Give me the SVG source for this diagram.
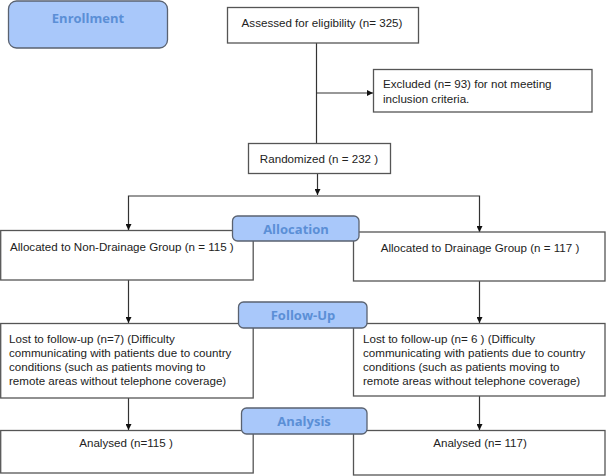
<svg xmlns="http://www.w3.org/2000/svg" width="606" height="476" viewBox="0 0 606 476">
<defs>
<style>
.box{fill:#ffffff;stroke:#555555;stroke-width:1.3}
.lab{fill:#a9c8fa;stroke:#5a6270;stroke-width:1.3}
.lt{font-family:"Open Sans","Liberation Sans",sans-serif;font-weight:bold;font-size:13px;fill:#5b8fd6;text-anchor:middle}
.t{font-family:"Liberation Sans",Arial,sans-serif;font-size:11.6px;fill:#222222}
.m{text-anchor:middle}
.c{fill:none;stroke:#333333;stroke-width:1.2}
</style>
<marker id="ah" viewBox="0 0 10 10" refX="10" refY="5" markerWidth="6" markerHeight="6" markerUnits="userSpaceOnUse" orient="auto">
<path d="M0,0 L10,5 L0,10 z" fill="#111111"/>
</marker>
</defs>
<rect width="606" height="476" fill="#ffffff"/>

<g id="connectors">
<line class="c" x1="316.5" y1="43" x2="316.5" y2="143"/>
<line class="c" x1="316.5" y1="93" x2="373" y2="93" marker-end="url(#ah)"/>
<line class="c" x1="317.5" y1="173" x2="317.5" y2="195" marker-end="url(#ah)"/>
<polyline class="c" points="128.5,230 128.5,196 479.5,196 479.5,232" />
<line class="c" x1="128.5" y1="225" x2="128.5" y2="230" marker-end="url(#ah)"/>
<line class="c" x1="479.5" y1="227" x2="479.5" y2="232" marker-end="url(#ah)"/>
<line class="c" x1="128.5" y1="280" x2="128.5" y2="323" marker-end="url(#ah)"/>
<line class="c" x1="479.5" y1="281" x2="479.5" y2="323" marker-end="url(#ah)"/>
<line class="c" x1="128.5" y1="398" x2="128.5" y2="430" marker-end="url(#ah)"/>
<line class="c" x1="479.5" y1="396" x2="479.5" y2="430" marker-end="url(#ah)"/>
</g>

<g id="enrollment">
<rect class="lab" x="8.5" y="1" width="159" height="47" rx="8"/>
<text class="lt" x="88" y="23" font-size="15">Enrollment</text>
</g>

<g id="assessed">
<rect class="box" x="227.5" y="7.5" width="191" height="35.5"/>
<text class="t m" x="322" y="27">Assessed for eligibility (n= 325)</text>
</g>

<g id="excluded">
<rect class="box" x="373.5" y="69.5" width="218.5" height="42.5"/>
<text class="t" x="383" y="88">Excluded (n= 93) for not meeting</text>
<text class="t" x="383" y="103">inclusion criteria.</text>
</g>

<g id="randomized">
<rect class="box" x="248.5" y="143.5" width="142" height="30"/>
<text class="t m" x="319" y="163">Randomized (n = 232 )</text>
</g>

<g id="alloc-left">
<rect class="box" x="0.7" y="230.5" width="252.5" height="49.5"/>
<text class="t" x="10" y="251">Allocated to Non-Drainage Group (n = 115 )</text>
</g>

<g id="alloc-right">
<rect class="box" x="353.5" y="232" width="251.5" height="49"/>
<text class="t m" x="480" y="252">Allocated to Drainage Group (n = 117 )</text>
</g>

<g id="allocation">
<rect class="lab" x="232.5" y="216" width="126.5" height="25" rx="5"/>
<text class="lt" x="296" y="234">Allocation</text>
</g>

<g id="lost-left">
<rect class="box" x="0.7" y="323.5" width="252.5" height="74.5"/>
<text class="t" x="9" y="343">Lost to follow-up (n=7) (Difficulty</text>
<text class="t" x="9" y="357">communicating with patients due to country</text>
<text class="t" x="9" y="371">conditions (such as patients moving to</text>
<text class="t" x="9" y="385">remote areas without telephone coverage)</text>
</g>

<g id="lost-right">
<rect class="box" x="353.5" y="323.5" width="251.5" height="72.5"/>
<text class="t" x="363" y="343">Lost to follow-up (n= 6 ) (Difficulty</text>
<text class="t" x="363" y="357">communicating with patients due to country</text>
<text class="t" x="363" y="371">conditions (such as patients moving to</text>
<text class="t" x="363" y="385">remote areas without telephone coverage)</text>
</g>

<g id="followup">
<rect class="lab" x="238.5" y="302" width="128.5" height="26" rx="5"/>
<text class="lt" x="303" y="320">Follow-Up</text>
</g>

<g id="analysed-left">
<rect class="box" x="0.7" y="430.5" width="252.5" height="42.5"/>
<text class="t m" x="126" y="447">Analysed (n=115 )</text>
</g>

<g id="analysed-right">
<rect class="box" x="353.5" y="430.5" width="251.5" height="44.5"/>
<text class="t m" x="480" y="447">Analysed (n= 117)</text>
</g>

<g id="analysis">
<rect class="lab" x="241.5" y="408" width="125.5" height="26" rx="5"/>
<text class="lt" x="304" y="426">Analysis</text>
</g>
</svg>
